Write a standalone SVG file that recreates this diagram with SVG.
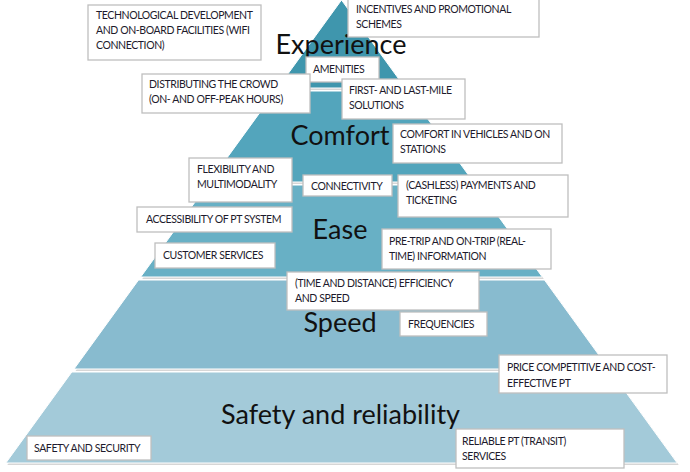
<svg xmlns="http://www.w3.org/2000/svg" width="690" height="472" viewBox="0 0 690 472">
<defs>
<style>
.band{stroke:#ffffff;stroke-width:1}
.shadow{fill:#d6d6d6}
.box{fill:#ffffff;stroke:#bfbfbf;stroke-width:1.3}
.t{font-family:Lato,"Liberation Sans",sans-serif;font-size:10.5px;letter-spacing:-0.4px;fill:#1d1a2c}
.big{font-family:Lato,"Open Sans",sans-serif;font-size:27px;fill:#111111;text-anchor:middle}
</style>
</defs>
<rect x="0" y="0" width="690" height="472" fill="#ffffff"/>
<g id="shadows" transform="translate(1.5,2)">
<polygon class="shadow" points="341.5,0 405.3,88 277.7,88"/>
<polygon class="shadow" points="275.5,91 407.5,91 473.5,182 209.5,182"/>
<polygon class="shadow" points="207.4,185 475.6,185 542.3,277 140.7,277"/>
<polygon class="shadow" points="138.5,280 544.5,280 609,369 74,369"/>
<polygon class="shadow" points="71.8,372 611.2,372 677.2,463 5.8,463"/>
</g>
<g id="experience">
<polygon class="band" fill="#3f96ad" points="341.5,0 405.3,88 277.7,88"/>
<text class="big" x="341" y="54">Experience</text>
</g>
<g id="comfort">
<polygon class="band" fill="#53a5bc" points="275.5,91 407.5,91 473.5,182 209.5,182"/>
<text class="big" x="340" y="145">Comfort</text>
</g>
<g id="ease">
<polygon class="band" fill="#68b0c5" points="207.4,185 475.6,185 542.3,277 140.7,277"/>
<text class="big" x="340" y="239">Ease</text>
</g>
<g id="speed">
<polygon class="band" fill="#88bbcf" points="138.5,280 544.5,280 609,369 74,369"/>
<text class="big" x="340" y="332">Speed</text>
</g>
<g id="safety">
<polygon class="band" fill="#a3cad9" points="71.8,372 611.2,372 677.2,463 5.8,463"/>
<text class="big" x="340.5" y="424">Safety and reliability</text>
</g>
<g id="connectors"></g>
<g id="n-tech">
<rect class="box" x="88" y="5" width="173" height="55"/>
<text class="t" x="96" y="19">TECHNOLOGICAL DEVELOPMENT</text>
<text class="t" x="96" y="34">AND ON-BOARD FACILITIES (WIFI</text>
<text class="t" x="96" y="49">CONNECTION)</text>
</g>
<g id="n-incentives">
<rect class="box" x="348" y="-1" width="191" height="38"/>
<text class="t" x="356" y="13">INCENTIVES AND PROMOTIONAL</text>
<text class="t" x="356" y="28">SCHEMES</text>
</g>
<g id="n-amenities">
<rect class="box" x="306" y="57" width="73" height="25"/>
<text class="t" x="313" y="73">AMENITIES</text>
</g>
<g id="n-crowd">
<rect class="box" x="142" y="74" width="168" height="39"/>
<text class="t" x="149" y="88">DISTRIBUTING THE CROWD</text>
<text class="t" x="149" y="103">(ON- AND OFF-PEAK HOURS)</text>
</g>
<g id="n-firstlast">
<rect class="box" x="342" y="79" width="123" height="40"/>
<text class="t" x="349" y="94">FIRST- AND LAST-MILE</text>
<text class="t" x="349" y="109">SOLUTIONS</text>
</g>
<g id="n-comfortveh">
<rect class="box" x="393" y="124" width="169" height="39"/>
<text class="t" x="400" y="138">COMFORT IN VEHICLES AND ON</text>
<text class="t" x="400" y="153">STATIONS</text>
</g>
<g id="n-flex">
<rect class="box" x="189" y="158" width="103" height="44"/>
<text class="t" x="197" y="173">FLEXIBILITY AND</text>
<text class="t" x="197" y="188">MULTIMODALITY</text>
</g>
<g id="n-connectivity">
<rect class="box" x="303" y="175" width="89" height="21"/>
<text class="t" x="311" y="190">CONNECTIVITY</text>
</g>
<g id="n-payments">
<rect class="box" x="398" y="175" width="170" height="42"/>
<text class="t" x="406" y="189">(CASHLESS) PAYMENTS AND</text>
<text class="t" x="406" y="204">TICKETING</text>
</g>
<g id="n-access">
<rect class="box" x="137" y="207" width="155" height="25"/>
<text class="t" x="146" y="223">ACCESSIBILITY OF PT SYSTEM</text>
</g>
<g id="n-customer">
<rect class="box" x="155" y="243" width="120" height="25"/>
<text class="t" x="163" y="259">CUSTOMER SERVICES</text>
</g>
<g id="n-pretrip">
<rect class="box" x="382" y="229" width="169" height="40"/>
<text class="t" x="389" y="245">PRE-TRIP AND ON-TRIP (REAL-</text>
<text class="t" x="389" y="260">TIME) INFORMATION</text>
</g>
<g id="n-efficiency">
<rect class="box" x="287" y="272" width="192" height="38"/>
<text class="t" x="295" y="287">(TIME AND DISTANCE) EFFICIENCY</text>
<text class="t" x="295" y="302">AND SPEED</text>
</g>
<g id="n-frequencies">
<rect class="box" x="400" y="312" width="87" height="24"/>
<text class="t" x="408" y="328">FREQUENCIES</text>
</g>
<g id="n-price">
<rect class="box" x="499" y="355" width="168" height="38"/>
<text class="t" x="507" y="371">PRICE COMPETITIVE AND COST-</text>
<text class="t" x="507" y="387">EFFECTIVE PT</text>
</g>
<g id="n-safetysec">
<rect class="box" x="27" y="436" width="124" height="24"/>
<text class="t" x="34" y="452">SAFETY AND SECURITY</text>
</g>
<g id="n-reliable">
<rect class="box" x="456" y="429" width="168" height="39"/>
<text class="t" x="462" y="445">RELIABLE PT (TRANSIT)</text>
<text class="t" x="462" y="460">SERVICES</text>
</g>
</svg>
